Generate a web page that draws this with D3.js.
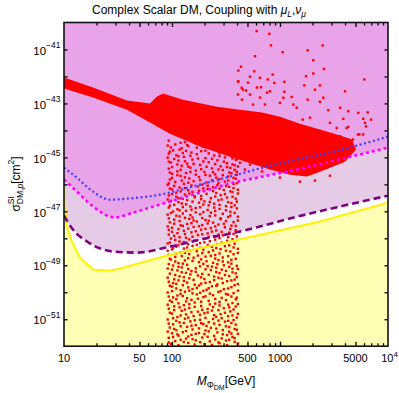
<!DOCTYPE html>
<html><head><meta charset="utf-8">
<script src="https://cdn.jsdelivr.net/npm/d3@7"></script>
<style>body{margin:0;background:#fff}svg{display:block;font-family:"Liberation Sans",Arial,sans-serif}</style>
</head><body><svg id="c" width="399" height="393"></svg>
<script>
// ---------- data (log10 of mass in GeV, log10 of cross section in cm^2) ----------
const massTicksMinor = [20,30,40,60,70,80,90,200,300,400,600,700,800,900,2000,3000,4000,6000,7000,8000,9000];
const massTicksMajor = [50,100,500,1000,5000];
const massLabels = [[10,"10",""],[50,"50",""],[100,"100",""],[500,"500",""],[1000,"1000",""],[5000,"5000",""],[10000,"10","4"]];
const sigmaTickExps = [-51,-50,-49,-48,-47,-46,-45,-44,-43,-42,-41];
const sigmaLabelExps = [-51,-49,-47,-45,-43,-41];

const blueLimit = [[1,-45.38],[1.118,-45.75],[1.269,-46.27],[1.426,-46.57],[1.583,-46.53],[1.889,-46.38],[2.194,-46.08],[2.537,-45.71],[2.843,-45.38],[3.157,-45.08],[3.463,-44.82],[4,-44.23]];
const magentaLimit = [[1,-45.82],[1.12,-46.27],[1.269,-46.82],[1.472,-47.23],[1.639,-47.05],[1.889,-46.75],[2.194,-46.38],[2.537,-45.97],[2.843,-45.71],[3.157,-45.45],[3.463,-45.16],[4,-44.64]];
const purpleLimit = [[1,-47.16],[1.083,-47.68],[1.213,-48.12],[1.454,-48.49],[1.676,-48.53],[1.981,-48.31],[2.352,-47.97],[2.537,-47.83],[2.843,-47.53],[3.157,-47.20],[3.556,-46.82],[4,-46.42]];
const neutrinoFloor = [[1,-46.12],[1.023,-47.49],[1.065,-48.05],[1.148,-48.72],[1.269,-49.16],[1.426,-49.20],[1.546,-49.09],[1.981,-48.61],[2.537,-48.12],[3.370,-47.38],[4,-46.68]];

const bandOutline = [[1.000,-42.04],[1.269,-42.41],[1.583,-42.89],[1.796,-43.00],[1.861,-42.74],[1.917,-42.63],[2.102,-42.86],[2.417,-43.12],[2.630,-43.23],[2.833,-43.34],[3.000,-43.49],[3.185,-43.75],[3.370,-43.97],[3.556,-44.19],[3.667,-44.34],[3.704,-44.71],[3.602,-45.16],[3.370,-45.53],[3.250,-45.71],[3.093,-45.64],[2.907,-45.45],[2.565,-45.01],[2.259,-44.60],[1.981,-44.12],[1.796,-43.71],[1.583,-43.23],[1.269,-42.78],[1.000,-42.45]];

const sparsePoints = [[2.784,-40.32],[2.901,-40.42],[2.917,-40.85],[3.395,-40.85],[2.769,-41.25],[3.025,-41.10],[3.256,-41.03],[3.308,-41.40],[2.614,-41.78],[2.639,-41.64],[2.762,-41.81],[2.932,-41.93],[3.308,-41.89],[3.407,-41.72],[3.241,-41.99],[3.781,-42.11],[2.614,-42.18],[2.722,-42.01],[2.815,-42.05],[2.886,-42.11],[2.947,-42.24],[3.040,-42.20],[3.225,-42.33],[3.370,-42.33],[3.324,-42.49],[3.602,-42.55],[2.645,-42.42],[2.685,-42.52],[2.824,-42.40],[2.907,-42.55],[3.040,-42.57],[3.108,-42.76],[3.256,-42.86],[3.401,-42.79],[3.370,-42.94],[3.556,-43.16],[3.632,-43.29],[3.725,-43.35],[3.812,-43.33],[3.447,-43.25],[3.771,-43.57],[3.843,-43.60],[3.787,-43.72],[3.796,-43.85],[3.586,-43.57],[3.632,-43.87],[3.734,-44.15],[3.463,-43.72],[3.525,-43.91],[3.210,-43.60],[3.278,-43.53],[3.123,-43.04],[3.000,-42.98],[3.031,-42.79],[3.155,-43.16],[2.611,-42.19],[2.704,-42.23],[2.657,-42.49],[2.722,-42.67],[2.611,-42.67],[2.787,-42.41],[2.815,-42.78],[2.880,-42.60],[2.648,-42.86],[2.750,-43.04],[2.861,-43.04],[3.722,-44.15],[3.769,-44.15],[3.583,-44.60],[3.648,-44.53],[3.617,-43.91],[3.556,-44.22],[3.491,-44.34],[3.676,-44.34],[2.722,-45.27],[2.833,-45.52],[2.676,-45.45],[3.0,-45.75],[3.185,-45.90],[3.324,-45.86],[3.463,-45.68],[2.630,-45.20]];

const stripPointsA = [
[1.97,-44.38],[2.12,-44.43],[2.33,-44.41],[2.50,-44.36],[2.58,-44.44],
[2.03,-44.52],[2.21,-44.47],[2.41,-44.55],[2.55,-44.49],
[1.99,-44.63],[2.15,-44.58],[2.29,-44.61],[2.47,-44.64],[2.60,-44.57],
[2.07,-44.71],[2.36,-44.68],[2.52,-44.73],
[1.98,-44.79],[2.18,-44.82],[2.27,-44.77],[2.44,-44.84],[2.57,-44.8],
[2.04,-44.92],[2.23,-44.88],[2.39,-44.93],[2.61,-44.89],
[1.96,-45.01],[2.11,-44.98],[2.31,-45.03],[2.49,-45.0],[2.56,-45.04],
[2.06,-45.12],[2.19,-45.08],[2.42,-45.11],[2.59,-45.09],
[1.99,-45.19],[2.14,-45.23],[2.34,-45.18],[2.51,-45.22],
[2.09,-45.31],[2.26,-45.28],[2.45,-45.33],[2.58,-45.29],
[1.97,-45.42],[2.17,-45.38],[2.37,-45.41],[2.54,-45.39],
[2.05,-45.52],[2.22,-45.49],[2.30,-45.54],[2.47,-45.47],[2.60,-45.53],
[2.0,-45.61],[2.13,-45.58],[2.40,-45.63],[2.55,-45.59],
[2.08,-45.69],[2.25,-45.73],[2.35,-45.68],[2.52,-45.71],
[1.98,-45.82],[2.16,-45.78],[2.44,-45.81],[2.59,-45.79],
[2.03,-45.91],[2.20,-45.88],[2.32,-45.93],[2.49,-45.9],
[1.96,-46.02],[2.11,-45.98],[2.28,-46.01],[2.42,-46.03],[2.57,-45.99],
[2.07,-46.12],[2.24,-46.08],[2.38,-46.11],[2.53,-46.09],
[2.0,-46.19],[2.15,-46.22],[2.33,-46.18],[2.48,-46.21],[2.61,-46.2],
[2.04,-46.31],[2.19,-46.28],[2.41,-46.32],[2.56,-46.29],
[1.97,-46.41],[2.12,-46.38],[2.27,-46.43],[2.45,-46.4],
[2.06,-46.52],[2.21,-46.48],[2.36,-46.51],[2.51,-46.49],[2.59,-46.53],
[1.99,-46.61],[2.14,-46.58],[2.30,-46.63],[2.43,-46.59],
[2.09,-46.71],[2.25,-46.68],[2.39,-46.72],[2.55,-46.69],
[1.98,-46.79],[2.17,-46.82],[2.34,-46.78],[2.50,-46.81],[2.58,-46.78],
[2.05,-46.92],[2.22,-46.88],[2.44,-46.91],[2.60,-46.89],
[2.01,-47.01],[2.13,-46.98],[2.29,-47.03],[2.40,-46.99],[2.54,-47.02],
[1.96,-47.12],[2.10,-47.08],[2.26,-47.11],[2.47,-47.09],
[2.07,-47.19],[2.19,-47.23],[2.35,-47.18],[2.52,-47.21],[2.61,-47.2],
[2.02,-47.31],[2.16,-47.28],[2.31,-47.32],[2.45,-47.29],
[1.98,-47.41],[2.23,-47.38],[2.38,-47.42],[2.57,-47.4],
[2.08,-47.52],[2.14,-47.47],[2.28,-47.51],[2.43,-47.49],[2.55,-47.53],
[2.0,-47.61],[2.20,-47.58],[2.36,-47.62],[2.49,-47.59],
[1.97,-47.69],[2.11,-47.72],[2.27,-47.68],[2.41,-47.71],[2.59,-47.7],
[2.05,-47.81],[2.18,-47.78],[2.33,-47.82],[2.53,-47.79],
[2.02,-47.91],[2.24,-47.88],[2.39,-47.92],[2.47,-47.89],[2.60,-47.93],
[1.99,-48.01],[2.13,-47.98],[2.30,-48.02],[2.44,-47.99],[2.56,-48.03],
[2.07,-48.12],[2.21,-48.08],[2.35,-48.11],[2.51,-48.09],
[1.96,-48.19],[2.15,-48.22],[2.26,-48.18],[2.42,-48.21],[2.58,-48.2],
[2.04,-48.31],[2.19,-48.28],[2.37,-48.32],[2.49,-48.29],
[2.0,-48.41],[2.11,-48.38],[2.29,-48.42],[2.45,-48.4],[2.61,-48.39],
[2.08,-48.52],[2.23,-48.48],[2.34,-48.51],[2.54,-48.49],
[1.97,-48.61],[2.16,-48.58],[2.40,-48.62],[2.57,-48.59],
[2.03,-48.69],[2.20,-48.72],[2.31,-48.68],[2.47,-48.71],
[1.99,-48.79],[2.12,-48.82],[2.27,-48.78],[2.43,-48.81],[2.55,-48.8],
[2.06,-48.92],[2.25,-48.88],[2.38,-48.91],[2.52,-48.89],
[2.01,-49.01],[2.14,-48.98],[2.33,-49.03],[2.48,-49.0],[2.60,-49.02],
[1.96,-49.12],[2.09,-49.08],[2.22,-49.11],[2.41,-49.09],[2.56,-49.13],
[2.05,-49.19],[2.18,-49.22],[2.36,-49.18],[2.50,-49.21],
[1.98,-49.31],[2.13,-49.28],[2.28,-49.32],[2.44,-49.29],[2.59,-49.3],
[2.07,-49.41],[2.24,-49.38],[2.39,-49.42],[2.53,-49.4],
[2.02,-49.52],[2.16,-49.48],[2.30,-49.51],[2.46,-49.49],[2.58,-49.53],
[1.97,-49.61],[2.11,-49.58],[2.35,-49.62],[2.51,-49.59],
[2.04,-49.69],[2.21,-49.72],[2.27,-49.68],[2.42,-49.71],[2.61,-49.7],
[2.0,-49.79],[2.15,-49.82],[2.37,-49.78],[2.55,-49.81],
[2.08,-49.92],[2.19,-49.88],[2.32,-49.91],[2.48,-49.89],
[1.96,-50.01],[2.12,-49.98],[2.26,-50.02],[2.43,-49.99],[2.57,-50.03],
[2.05,-50.12],[2.23,-50.08],[2.38,-50.11],[2.52,-50.09],
[2.01,-50.19],[2.14,-50.22],[2.29,-50.18],[2.46,-50.21],[2.60,-50.2],
[1.98,-50.31],[2.18,-50.28],[2.34,-50.32],[2.50,-50.29],
[2.06,-50.41],[2.21,-50.38],[2.40,-50.42],[2.56,-50.4],
[2.02,-50.52],[2.11,-50.48],[2.27,-50.51],[2.44,-50.49],[2.59,-50.53],
[1.97,-50.61],[2.16,-50.58],[2.33,-50.62],[2.48,-50.59],
[2.09,-50.69],[2.24,-50.72],[2.37,-50.68],[2.54,-50.71],
[2.0,-50.79],[2.13,-50.82],[2.30,-50.78],[2.45,-50.81],[2.61,-50.8],
[2.05,-50.92],[2.20,-50.88],[2.41,-50.91],[2.52,-50.89],
[1.96,-51.01],[2.12,-50.98],[2.26,-51.02],[2.38,-50.99],[2.57,-51.03],
[2.07,-51.12],[2.17,-51.08],[2.34,-51.11],[2.49,-51.09],
[2.01,-51.19],[2.22,-51.22],[2.29,-51.18],[2.44,-51.21],[2.59,-51.2],
[1.98,-51.31],[2.14,-51.28],[2.36,-51.32],[2.53,-51.29],
[2.04,-51.41],[2.19,-51.38],[2.31,-51.42],[2.47,-51.4],[2.60,-51.39],
[2.0,-51.52],[2.10,-51.48],[2.25,-51.51],[2.42,-51.49],[2.55,-51.53],
[2.06,-51.61],[2.18,-51.58],[2.39,-51.62],[2.51,-51.59],
[1.97,-51.69],[2.13,-51.72],[2.28,-51.68],[2.46,-51.71],[2.58,-51.7],
[2.03,-51.81],[2.22,-51.78],[2.35,-51.82],[2.50,-51.79],
[1.99,-51.91],[2.15,-51.88],[2.30,-51.92],[2.44,-51.89],[2.61,-51.9]
];

const stripPointsB = [
[2.08,-44.46],[2.27,-44.44],[2.45,-44.47],[2.61,-44.45],
[1.96,-44.56],[2.14,-44.54],[2.35,-44.56],[2.49,-44.53],
[2.09,-44.66],[2.23,-44.64],[2.56,-44.66],
[2.01,-44.74],[2.13,-44.76],[2.31,-44.75],[2.47,-44.74],[2.6,-44.76],
[1.97,-44.86],[2.10,-44.84],[2.34,-44.85],[2.52,-44.86],
[2.06,-44.96],[2.17,-44.94],[2.44,-44.95],[2.55,-44.96],
[2.02,-45.06],[2.24,-45.04],[2.37,-45.05],[2.60,-45.06],
[1.97,-45.16],[2.12,-45.14],[2.29,-45.15],[2.48,-45.16],
[2.05,-45.26],[2.20,-45.24],[2.40,-45.25],[2.56,-45.26],
[2.0,-45.36],[2.15,-45.34],[2.32,-45.35],[2.51,-45.36],[2.61,-45.34],
[2.08,-45.46],[2.27,-45.44],[2.43,-45.45],[2.58,-45.46],
[1.98,-45.56],[2.17,-45.54],[2.38,-45.55],[2.53,-45.56],
[2.05,-45.66],[2.22,-45.64],[2.31,-45.65],[2.47,-45.66],[2.6,-45.64],
[2.0,-45.76],[2.12,-45.74],[2.41,-45.75],[2.57,-45.76],
[2.09,-45.86],[2.26,-45.84],[2.37,-45.85],[2.52,-45.86],
[1.97,-45.96],[2.15,-45.94],[2.43,-45.95],[2.6,-45.96],
[2.02,-46.06],[2.18,-46.04],[2.33,-46.05],[2.50,-46.06],
[1.98,-46.16],[2.12,-46.14],[2.29,-46.15],[2.44,-46.16],[2.57,-46.14],
[2.08,-46.26],[2.25,-46.24],[2.38,-46.25],[2.54,-46.26],
[2.0,-46.36],[2.16,-46.34],[2.32,-46.35],[2.49,-46.36],[2.61,-46.34],
[2.04,-46.46],[2.21,-46.44],[2.40,-46.45],[2.56,-46.46],
[1.96,-46.56],[2.10,-46.54],[2.27,-46.55],[2.46,-46.56],
[2.06,-46.66],[2.19,-46.64],[2.35,-46.65],[2.52,-46.66],[2.6,-46.64],
[2.02,-46.76],[2.13,-46.74],[2.29,-46.75],[2.44,-46.76],
[1.97,-46.86],[2.10,-46.84],[2.26,-46.85],[2.39,-46.86],[2.55,-46.84],
[2.07,-46.96],[2.18,-46.94],[2.33,-46.95],[2.50,-46.96],
[1.99,-47.06],[2.22,-47.04],[2.36,-47.05],[2.58,-47.06],
[2.04,-47.16],[2.17,-47.14],[2.40,-47.15],[2.54,-47.16],
[1.97,-47.26],[2.12,-47.24],[2.28,-47.25],[2.45,-47.26],
[2.07,-47.36],[2.20,-47.34],[2.34,-47.35],[2.50,-47.36],[2.61,-47.34],
[2.02,-47.46],[2.18,-47.44],[2.33,-47.45],[2.48,-47.46],
[1.96,-47.56],[2.10,-47.54],[2.25,-47.55],[2.40,-47.56],[2.59,-47.54],
[2.06,-47.66],[2.15,-47.64],[2.31,-47.65],[2.54,-47.66],
[2.0,-47.76],[2.22,-47.74],[2.37,-47.75],[2.46,-47.76],
[1.97,-47.86],[2.12,-47.84],[2.28,-47.85],[2.43,-47.86],[2.57,-47.84],
[2.07,-47.96],[2.19,-47.94],[2.34,-47.95],[2.52,-47.96],
[2.03,-48.06],[2.16,-48.04],[2.40,-48.05],[2.60,-48.06],
[1.98,-48.16],[2.11,-48.14],[2.30,-48.15],[2.46,-48.16],
[2.06,-48.26],[2.23,-48.24],[2.33,-48.25],[2.53,-48.26],
[2.01,-48.36],[2.14,-48.34],[2.26,-48.35],[2.41,-48.36],[2.57,-48.34],
[1.96,-48.46],[2.17,-48.44],[2.38,-48.45],[2.50,-48.46],
[2.04,-48.56],[2.12,-48.54],[2.28,-48.55],[2.44,-48.56],[2.61,-48.54],
[2.09,-48.66],[2.24,-48.64],[2.36,-48.65],[2.52,-48.66],
[1.98,-48.76],[2.15,-48.74],[2.40,-48.75],[2.59,-48.76],
[2.03,-48.86],[2.19,-48.84],[2.32,-48.85],[2.47,-48.86],
[1.97,-48.96],[2.10,-48.94],[2.29,-48.95],[2.42,-48.96],[2.55,-48.94],
[2.06,-49.06],[2.26,-49.04],[2.37,-49.05],[2.53,-49.06],
[2.0,-49.16],[2.15,-49.14],[2.31,-49.15],[2.46,-49.16],[2.61,-49.14],
[2.09,-49.26],[2.22,-49.24],[2.41,-49.25],[2.56,-49.26],
[2.03,-49.36],[2.17,-49.34],[2.34,-49.35],[2.49,-49.36],
[1.96,-49.46],[2.11,-49.44],[2.27,-49.45],[2.43,-49.46],[2.6,-49.44],
[2.06,-49.56],[2.20,-49.54],[2.39,-49.55],[2.55,-49.56],
[2.01,-49.66],[2.14,-49.64],[2.31,-49.65],[2.47,-49.66],
[1.98,-49.76],[2.10,-49.74],[2.25,-49.75],[2.41,-49.76],[2.58,-49.74],
[2.04,-49.86],[2.23,-49.84],[2.34,-49.85],[2.52,-49.86],
[2.0,-49.96],[2.16,-49.94],[2.29,-49.95],[2.45,-49.96],[2.61,-49.94],
[2.08,-50.06],[2.19,-50.04],[2.35,-50.05],[2.50,-50.06],
[1.97,-50.16],[2.10,-50.14],[2.31,-50.15],[2.55,-50.16],
[2.04,-50.26],[2.24,-50.24],[2.40,-50.25],[2.59,-50.26],
[2.0,-50.36],[2.13,-50.34],[2.27,-50.35],[2.44,-50.36],
[1.96,-50.46],[2.16,-50.44],[2.35,-50.45],[2.52,-50.46],[2.61,-50.44],
[2.07,-50.56],[2.21,-50.54],[2.38,-50.55],[2.53,-50.56],
[2.02,-50.66],[2.12,-50.64],[2.28,-50.65],[2.43,-50.66],[2.57,-50.64],
[1.98,-50.76],[2.18,-50.74],[2.33,-50.75],[2.49,-50.76],
[2.08,-50.86],[2.26,-50.84],[2.39,-50.85],[2.56,-50.86],
[2.01,-50.96],[2.15,-50.94],[2.31,-50.95],[2.46,-50.96],[2.6,-50.94],
[2.04,-51.06],[2.21,-51.04],[2.43,-51.05],[2.52,-51.06],
[1.97,-51.16],[2.11,-51.14],[2.27,-51.15],[2.39,-51.16],[2.55,-51.14],
[2.08,-51.26],[2.18,-51.24],[2.32,-51.25],[2.50,-51.26],
[2.02,-51.36],[2.25,-51.34],[2.41,-51.35],[2.58,-51.36],
[1.96,-51.46],[2.13,-51.44],[2.34,-51.45],[2.53,-51.46],
[2.05,-51.56],[2.22,-51.54],[2.30,-51.55],[2.47,-51.56],[2.61,-51.54],
[2.01,-51.66],[2.15,-51.64],[2.33,-51.65],[2.56,-51.66],
[2.08,-51.76],[2.19,-51.74],[2.40,-51.75],[2.53,-51.76],
[1.97,-51.86],[2.11,-51.84],[2.26,-51.85],[2.43,-51.86],[2.58,-51.84],
[2.06,-51.96],[2.21,-51.94],[2.37,-51.95],[2.51,-51.96]
];

// ---------- layout ----------
const L=64, R=388, T=22.5, B=346.2;
const svg = d3.select("#c");
const x = d3.scaleLog().domain([10,1e4]).range([L,R]);
const y = d3.scaleLog().domain([1e-52,1e-40]).range([B,T]);
const px = d => x(Math.pow(10,d[0])), py = d => y(Math.pow(10,d[1]));

svg.append("defs").append("clipPath").attr("id","clip")
  .append("rect").attr("x",L).attr("y",T).attr("width",R-L).attr("height",B-T);
const plot = svg.append("g").attr("clip-path","url(#clip)");

plot.append("rect").attr("x",L).attr("y",T).attr("width",R-L).attr("height",B-T).attr("fill","#e9a3e9");
const areaSmooth = d3.area().x(px).y0(B+10).y1(py).curve(d3.curveMonotoneX);
const areaLin = d3.area().x(px).y0(B+10).y1(py);
plot.append("path").datum(magentaLimit).attr("d",areaSmooth).attr("fill","#e6cbe6");
plot.append("path").datum(purpleLimit).attr("d",areaSmooth).attr("fill","#ffffff");
plot.append("path").datum(neutrinoFloor).attr("d",areaLin).attr("fill","#ffffb6");

// red scan points
plot.append("path").attr("d", d3.line().x(px).y(py)(bandOutline)+"Z").attr("fill","#ff0000");
const ps = 2.4;
plot.append("g").selectAll("rect").data(stripPointsA.concat(stripPointsB, sparsePoints)).join("rect")
  .attr("x",d=>px(d)-ps/2).attr("y",d=>py(d)-ps/2).attr("width",ps).attr("height",ps).attr("fill","#ff0000");

// limit lines
const lineSmooth = d3.line().x(px).y(py).curve(d3.curveMonotoneX);
const lineLin = d3.line().x(px).y(py);
plot.append("path").datum(neutrinoFloor).attr("d",lineLin).attr("fill","none").attr("stroke","#fff200").attr("stroke-width",2);
plot.append("path").datum(purpleLimit).attr("d",lineSmooth).attr("fill","none").attr("stroke","#800080").attr("stroke-width",2.6).attr("stroke-dasharray","7,4");
plot.append("path").datum(magentaLimit).attr("d",lineSmooth).attr("fill","none").attr("stroke","#ff00ff").attr("stroke-width",2.6).attr("stroke-dasharray","3,3");
plot.append("path").datum(blueLimit).attr("d",lineSmooth).attr("fill","none").attr("stroke","#3c3cff").attr("stroke-width",2.2).attr("stroke-dasharray","2,2.6");

// ---------- axes (inward ticks on all sides) ----------
const sigTickVals = sigmaTickExps.map(e=>Math.pow(10,e));
function styleAxis(g){ g.select(".domain").remove(); g.selectAll(".tick line").attr("stroke","#000").attr("stroke-width",1.3); }
svg.append("g").attr("transform",`translate(0,${B})`).call(d3.axisBottom(x).tickValues(massTicksMinor).tickSize(-3).tickFormat("")).call(styleAxis);
svg.append("g").attr("transform",`translate(0,${B})`).call(d3.axisBottom(x).tickValues(massTicksMajor).tickSize(-4.5).tickFormat("")).call(styleAxis);
svg.append("g").attr("transform",`translate(0,${T})`).call(d3.axisTop(x).tickValues(massTicksMinor).tickSize(-3).tickFormat("")).call(styleAxis);
svg.append("g").attr("transform",`translate(0,${T})`).call(d3.axisTop(x).tickValues(massTicksMajor).tickSize(-4.5).tickFormat("")).call(styleAxis);
svg.append("g").attr("transform",`translate(${L},0)`).call(d3.axisLeft(y).tickValues(sigTickVals).tickSize(-3.5).tickFormat("")).call(styleAxis);
svg.append("g").attr("transform",`translate(${R},0)`).call(d3.axisRight(y).tickValues(sigTickVals).tickSize(-3.5).tickFormat("")).call(styleAxis);
svg.append("rect").attr("x",L).attr("y",T).attr("width",R-L).attr("height",B-T).attr("fill","none").attr("stroke","#111").attr("stroke-width",1.6);

// ---------- rich text helper ----------
function rich(parent, runs, ax, ay, align, transform){
  const g = parent.append("g");
  let cx = 0, hold = 0;
  runs.forEach(r=>{
    const t = g.append("text").attr("x",cx).attr("y",r.dy||0).attr("font-size",r.size)
      .attr("font-style",r.it?"italic":"normal").attr("fill","#000").text(r.t);
    const w = t.node().getComputedTextLength();
    if(r.hold){ hold = Math.max(hold,w); } else { cx += Math.max(w,hold); hold = 0; }
  });
  const off = align==="middle" ? -cx/2 : align==="end" ? -cx : 0;
  g.selectAll("text").attr("x",function(){return +this.getAttribute("x")+off;});
  g.attr("transform", `translate(${ax},${ay})` + (transform||""));
  return g;
}

// tick labels
massLabels.forEach(([v,base,sup])=>{
  const runs=[{t:base,size:11}];
  if(sup) runs.push({t:sup,size:8,dy:-5});
  rich(svg, runs, x(v)+(sup?1.5:0), 361.5, "middle");
});
sigmaLabelExps.forEach(e=>{
  rich(svg, [{t:"10",size:11.5},{t:"\u2212"+Math.abs(e),size:8.5,dy:-6.5}], 60.5, y(Math.pow(10,e))+5.2, "end");
});

// title
rich(svg, [{t:"Complex Scalar DM, Coupling with\u00a0",size:12},{t:"\u03bc",size:12,it:true},{t:"L",size:8.5,it:true,dy:2.5},{t:",",size:12},{t:"\u03bd",size:12,it:true},{t:"\u03bc",size:8.5,it:true,dy:2.5}], 199, 14, "middle");

// x axis label
rich(svg, [{t:"M",size:12,it:true},{t:"\u03a6",size:9,dy:2.5},{t:"DM",size:7,dy:5},{t:"[GeV]",size:12}], 226, 385, "middle");

// y axis label
rich(svg, [{t:"\u03c3",size:12},{t:"SI",size:8.5,dy:-6,hold:true},{t:"DM,",size:8.5,dy:3},{t:"p",size:8.5,it:true,dy:3},{t:"[cm",size:12},{t:"2",size:8.5,dy:-5.5},{t:"]",size:12}], 19.5, 184, "middle", " rotate(-90)");
</script></body></html>
